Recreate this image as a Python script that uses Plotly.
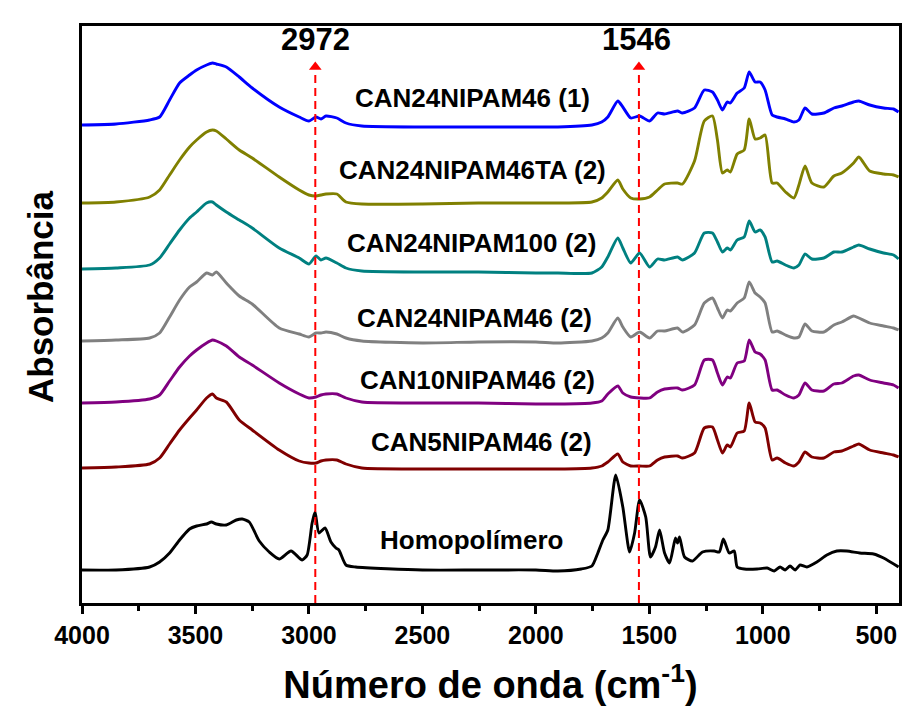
import plotly.graph_objects as go

# Shared wavenumber grid (cm-1) for the copolymer spectra
wn_can = [4000, 3850, 3702, 3658, 3614, 3570, 3526, 3495, 3451, 3425,
          3408, 3364, 3307, 3250, 3131, 3043, 3000, 2969, 2947, 2925,
          2877, 2837, 2767, 2500, 2254, 2000, 1903, 1753, 1710, 1683,
          1639, 1617, 1582, 1543, 1499, 1464, 1433, 1376, 1354, 1301,
          1258, 1222, 1200, 1178, 1157, 1143, 1113, 1082, 1060, 1034,
          1012, 990, 959, 937, 900, 863, 841, 814, 784, 731,
          687, 652, 600, 577, 529, 468, 424, 402]

# Baseline-relative absorbance (a.u.)
abs_can24_46_1 = [0, 0.01, 0.05, 0.08, 0.25, 0.42, 0.50, 0.55, 0.60, 0.62,
                  0.61, 0.58, 0.48, 0.37, 0.18, 0.08, 0.04, 0.08, 0.06, 0.09,
                  0.07, 0.02, -0.01, -0.02, -0.02, -0.02, -0.02, 0.00, 0.03, 0.08,
                  0.24, 0.18, 0.07, 0.09, 0.04, 0.12, 0.11, 0.14, 0.12, 0.17,
                  0.35, 0.33, 0.25, 0.15, 0.23, 0.22, 0.32, 0.37, 0.53, 0.43,
                  0.43, 0.35, 0.10, 0.08, 0.06, 0.03, 0.05, 0.17, 0.11, 0.12,
                  0.17, 0.19, 0.23, 0.24, 0.20, 0.17, 0.16, 0.13]

abs_can24_46ta_2 = [0, 0.01, 0.06, 0.13, 0.28, 0.43, 0.56, 0.63, 0.71, 0.73,
                    0.72, 0.64, 0.53, 0.45, 0.26, 0.13, 0.08, 0.07, 0.08, 0.09,
                    0.09, 0.01, -0.01, -0.01, 0.00, 0.00, 0.00, 0.01, 0.05, 0.11,
                    0.23, 0.14, 0.05, 0.04, 0.06, 0.13, 0.19, 0.20, 0.19, 0.42,
                    0.82, 0.87, 0.63, 0.30, 0.33, 0.31, 0.49, 0.53, 0.84, 0.64,
                    0.65, 0.68, 0.20, 0.20, 0.11, 0.05, 0.18, 0.37, 0.20, 0.16,
                    0.27, 0.30, 0.40, 0.46, 0.32, 0.29, 0.28, 0.26]

abs_can24_100_2 = [0, 0.01, 0.04, 0.11, 0.25, 0.39, 0.51, 0.57, 0.66, 0.67,
                   0.64, 0.57, 0.49, 0.41, 0.21, 0.11, 0.05, 0.13, 0.09, 0.11,
                   0.06, 0.01, -0.02, -0.03, -0.03, -0.04, -0.04, -0.04, 0.02, 0.12,
                   0.31, 0.21, 0.06, 0.16, 0.02, 0.10, 0.09, 0.12, 0.09, 0.16,
                   0.36, 0.36, 0.27, 0.17, 0.21, 0.19, 0.29, 0.32, 0.48, 0.37,
                   0.39, 0.32, 0.07, 0.08, 0.04, 0.01, 0.04, 0.15, 0.10, 0.11,
                   0.17, 0.17, 0.22, 0.24, 0.20, 0.16, 0.14, 0.10]

abs_can24_46_2 = [0, 0.01, 0.03, 0.08, 0.24, 0.41, 0.54, 0.59, 0.68, 0.66,
                  0.69, 0.58, 0.45, 0.37, 0.13, 0.07, 0.04, 0.08, 0.08, 0.09,
                  0.07, 0.03, 0.00, -0.02, -0.01, -0.01, -0.02, 0.00, 0.03, 0.08,
                  0.23, 0.14, 0.04, 0.09, 0.03, 0.10, 0.10, 0.13, 0.09, 0.16,
                  0.38, 0.43, 0.33, 0.23, 0.31, 0.30, 0.38, 0.43, 0.59, 0.48,
                  0.44, 0.38, 0.09, 0.10, 0.06, 0.03, 0.04, 0.17, 0.10, 0.09,
                  0.16, 0.19, 0.25, 0.23, 0.18, 0.15, 0.13, 0.11]

abs_can10_46_2 = [0, 0.01, 0.04, 0.08, 0.22, 0.36, 0.47, 0.53, 0.60, 0.63,
                  0.62, 0.57, 0.46, 0.38, 0.20, 0.09, 0.05, 0.06, 0.08, 0.09,
                  0.09, 0.05, 0.01, 0.00, 0.00, -0.01, -0.01, 0.00, 0.02, 0.09,
                  0.17, 0.10, 0.06, 0.05, 0.05, 0.11, 0.14, 0.15, 0.13, 0.18,
                  0.43, 0.43, 0.30, 0.18, 0.26, 0.25, 0.40, 0.42, 0.63, 0.51,
                  0.49, 0.43, 0.13, 0.13, 0.08, 0.05, 0.08, 0.20, 0.13, 0.12,
                  0.19, 0.20, 0.27, 0.28, 0.23, 0.20, 0.18, 0.15]

abs_can5_46_2 = [0, 0.01, 0.04, 0.10, 0.24, 0.38, 0.50, 0.58, 0.70, 0.74,
                 0.70, 0.66, 0.48, 0.38, 0.18, 0.07, 0.05, 0.05, 0.07, 0.08,
                 0.08, 0.04, 0.00, -0.01, -0.01, -0.01, -0.01, 0.00, 0.02, 0.06,
                 0.14, 0.06, 0.02, 0.02, 0.02, 0.08, 0.11, 0.12, 0.10, 0.15,
                 0.40, 0.41, 0.28, 0.15, 0.23, 0.21, 0.35, 0.37, 0.65, 0.46,
                 0.45, 0.40, 0.08, 0.10, 0.05, 0.02, 0.06, 0.16, 0.11, 0.10,
                 0.16, 0.17, 0.22, 0.24, 0.18, 0.15, 0.13, 0.11]

# Homopolymer (PNIPAM) spectrum on its own grid
wn_homo = [4000, 3850, 3702, 3658, 3614, 3570, 3526, 3495, 3451, 3430,
           3408, 3364, 3320, 3294, 3263, 3219, 3175, 3131, 3079, 3030,
           3008, 2986, 2973, 2956, 2929, 2903, 2881, 2868, 2837, 2794,
           2500, 2254, 2000, 1903, 1800, 1753, 1727, 1705, 1683, 1648,
           1617, 1587, 1565, 1543, 1516, 1495, 1473, 1455, 1433, 1411,
           1385, 1376, 1367, 1345, 1310, 1266, 1214, 1192, 1174, 1148,
           1126, 1113, 1082, 1025, 981, 950, 924, 902, 880, 858,
           836, 806, 762, 718, 674, 630, 573, 512, 468, 402]
abs_homo = [0, 0.00, 0.03, 0.08, 0.17, 0.30, 0.41, 0.44, 0.46, 0.48,
            0.46, 0.45, 0.50, 0.51, 0.48, 0.29, 0.18, 0.11, 0.19, 0.10,
            0.15, 0.47, 0.58, 0.37, 0.42, 0.28, 0.22, 0.20, 0.05, 0.03,
            0.00, 0.00, 0.00, -0.01, 0.01, 0.04, 0.17, 0.30, 0.40, 0.95,
            0.63, 0.18, 0.37, 0.70, 0.53, 0.13, 0.23, 0.40, 0.17, 0.07,
            0.32, 0.27, 0.33, 0.13, 0.09, 0.18, 0.19, 0.18, 0.31, 0.17,
            0.19, 0.03, 0.01, 0.01, 0.02, -0.01, 0.03, 0.00, 0.04, 0.00,
            0.05, 0.03, 0.08, 0.15, 0.19, 0.19, 0.17, 0.16, 0.12, 0.03]

sample_names = ["CAN24NIPAM46 (1)", "CAN24NIPAM46TA (2)", "CAN24NIPAM100 (2)",
                "CAN24NIPAM46 (2)", "CAN10NIPAM46 (2)", "CAN5NIPAM46 (2)",
                "Homopolímero"]
spectra = [(wn_can, abs_can24_46_1), (wn_can, abs_can24_46ta_2),
           (wn_can, abs_can24_100_2), (wn_can, abs_can24_46_2),
           (wn_can, abs_can10_46_2), (wn_can, abs_can5_46_2),
           (wn_homo, abs_homo)]
offsets = [4.78, 4.00, 3.34, 2.62, 2.00, 1.35, 0.33]
colors = ["#0000FF", "#808000", "#008080", "#808080", "#800080", "#800000", "#000000"]

# Label anchor positions (wavenumber, stacked absorbance)
label_wn = [2280, 2280, 2284, 2271, 2258, 2240, 2284]
label_y = [5.05, 4.33, 3.60, 2.85, 2.23, 1.61, 0.63]

# Marked bands
band_wn = [2972, 1546]
band_text = ["2972", "1546"]
band_text_wn = [2972, 1556]

font_family = "Liberation Sans, Arial, Helvetica, sans-serif"

fig = go.Figure()
for (wn, a), off, col, name in zip(spectra, offsets, colors, sample_names):
    fig.add_trace(go.Scatter(
        x=wn, y=[v + off for v in a], mode="lines", name=name,
        line=dict(color=col, width=2.9, shape="spline", smoothing=0.6),
        showlegend=False, hoverinfo="skip"))

for name, xw, yv in zip(sample_names, label_wn, label_y):
    fig.add_annotation(x=xw, y=yv, text=name, showarrow=False,
                       font=dict(family=font_family, size=26, color="black", weight="bold"),
                       xanchor="center", yanchor="middle")

# Dashed guide lines with arrowheads at the marked bands
for bw, bt, btw in zip(band_wn, band_text, band_text_wn):
    fig.add_shape(type="line", x0=bw, x1=bw, y0=0, y1=5.30,
                  line=dict(color="#FF0000", width=2, dash="8px,5px"), layer="above")
    fig.add_annotation(x=btw, y=5.64, text=bt, showarrow=False,
                       font=dict(family=font_family, size=31, color="black", weight="bold"),
                       xanchor="center", yanchor="middle")
fig.add_trace(go.Scatter(
    x=band_wn, y=[5.36] * len(band_wn), mode="markers",
    marker=dict(symbol="triangle-up", size=11, color="#FF0000", line=dict(width=0)),
    showlegend=False, hoverinfo="skip"))

# Vertical axis title placed as text to centre it on the stacked traces
fig.add_annotation(xref="paper", x=0, xshift=-42, y=3.06, yref="y",
                   text="Absorbância", textangle=-90, showarrow=False,
                   font=dict(family=font_family, size=35, color="black", weight="bold"),
                   xanchor="center", yanchor="middle")

fig.update_xaxes(
    range=[4000, 400], showgrid=False, zeroline=False,
    showline=True, linecolor="black", linewidth=3, mirror=True,
    ticks="outside", ticklen=8, tickwidth=2.5, tickcolor="black",
    tickvals=[4000, 3500, 3000, 2500, 2000, 1500, 1000, 500],
    minor=dict(tickvals=[3750, 3250, 2750, 2250, 1750, 1250, 750],
               ticks="outside", ticklen=5, tickwidth=2.5, tickcolor="black"),
    tickfont=dict(family=font_family, size=25, color="black", weight="bold"),
    title=dict(text="Número de onda (cm<sup>-1</sup>)",
               font=dict(family=font_family, size=38, color="black", weight="bold"),
               standoff=24),
)
fig.update_yaxes(
    range=[0, 5.77], showgrid=False, zeroline=False,
    showline=True, linecolor="black", linewidth=3, mirror=True,
    ticks="", showticklabels=False,
)
fig.update_layout(
    width=910, height=709,
    margin=dict(l=82, r=8, t=26, b=106),
    paper_bgcolor="white", plot_bgcolor="white",
)

fig.write_html("out.html")
